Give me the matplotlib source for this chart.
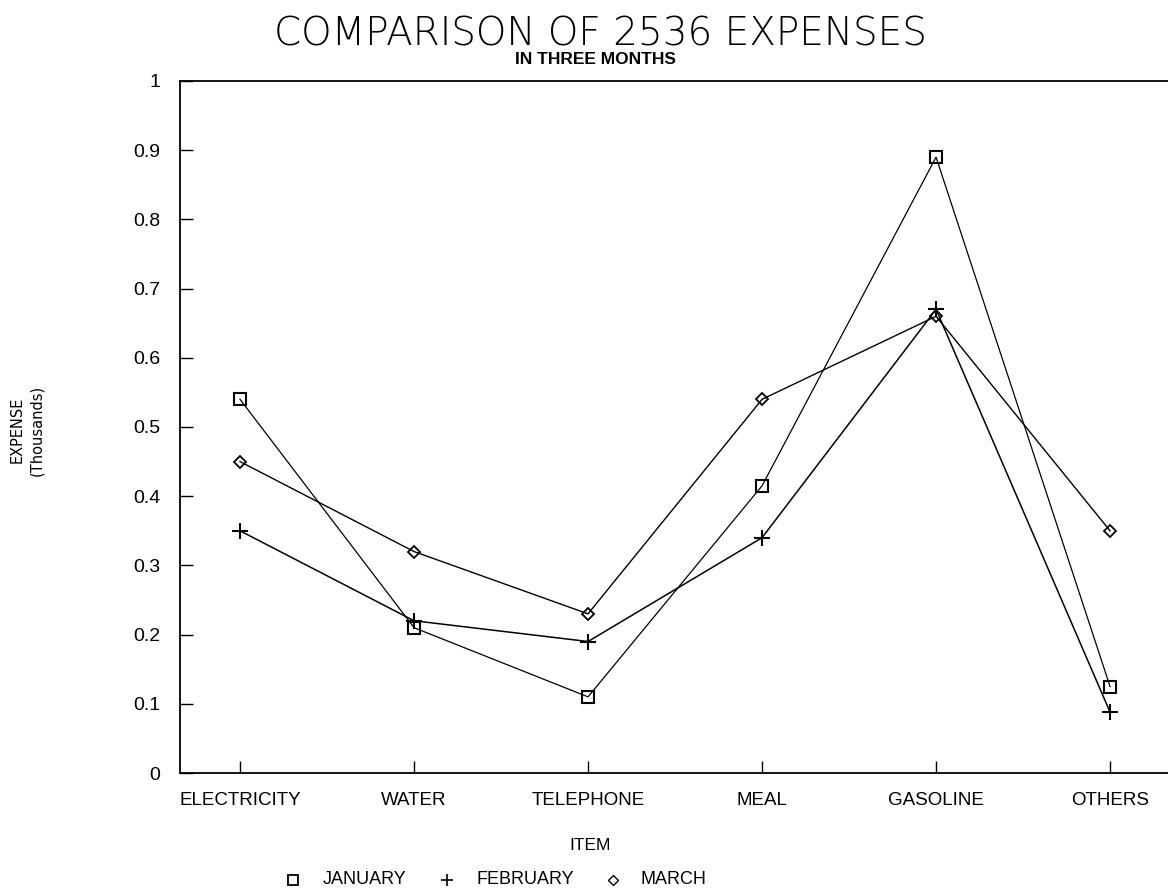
import matplotlib
matplotlib.use("Agg")
import matplotlib.pyplot as plt
from matplotlib.lines import Line2D

categories = ["ELECTRICITY", "WATER", "TELEPHONE", "MEAL", "GASOLINE", "OTHERS"]
january = [0.54, 0.21, 0.11, 0.415, 0.89, 0.125]
february = [0.35, 0.22, 0.19, 0.34, 0.67, 0.088]
march = [0.45, 0.32, 0.23, 0.54, 0.66, 0.35]
yticks = [0, 0.1, 0.2, 0.3, 0.4, 0.5, 0.6, 0.7, 0.8, 0.9, 1]
ytick_labels = ["0", "0.1", "0.2", "0.3", "0.4", "0.5", "0.6", "0.7", "0.8", "0.9", "1"]
series_names = ["JANUARY", "FEBRUARY", "MARCH"]

plt.rcParams['font.family'] = ['Liberation Sans', 'DejaVu Sans']

fig = plt.figure(figsize=(11.68, 8.94), dpi=100)
ax = fig.add_axes([180/1168, 1-773/894, 1-180/1168, (773-81)/894])

x = list(range(len(categories)))
ax.plot(x, january, color='black', lw=0.9, marker='s', ms=9, mfc='none', mec='black', mew=1.5)
ax.plot(x, february, color='black', lw=1.1, marker='+', ms=11, mew=1.5)
ax.plot(x, march, color='black', lw=1.0, marker='D', ms=6, mfc='none', mec='black', mew=1.3)

ax.set_xlim(-0.345, 5.333)
ax.set_ylim(0, 1)
ax.set_xticks(x)
ax.set_xticklabels(categories, fontsize=13.5)
ax.set_yticks(yticks)
ax.set_yticklabels(ytick_labels, fontsize=14)
ax.tick_params(axis='both', direction='in', length=9, width=1, color='black')
ax.tick_params(axis='x', pad=14)
ax.tick_params(axis='y', pad=14)
ax.spines['right'].set_visible(False)
for s in ['left', 'bottom', 'top']:
    ax.spines[s].set_linewidth(1.3)

fig.text(600/1168, 1-34/894, "COMPARISON OF 2536 EXPENSES", ha='center', va='center', fontsize=28, family='DejaVu Sans', fontweight='light')
fig.text(595/1168, 1-60/894, "IN THREE MONTHS", ha='center', va='center', fontsize=12.5, fontweight='bold')
fig.text(590/1168, 1-845/894, "ITEM", ha='center', va='center', fontsize=12.5)
fig.text(17/1168, 1-430/894, "EXPENSE", rotation=90, ha='center', va='center', fontsize=10.5, family='DejaVu Sans')
fig.text(37/1168, 1-430/894, "(Thousands)", rotation=90, ha='center', va='center', fontsize=10.5, family='DejaVu Sans')

# legend, drawn manually
leg_y = 1 - 880/894
marker_x = [293/1168, 447/1168, 613/1168]
label_x = [323/1168, 477/1168, 641/1168]
marker_styles = [dict(marker='s', ms=7, mfc='none', mec='black', mew=1.3),
                 dict(marker='+', ms=9, color='black', mew=1.2),
                 dict(marker='D', ms=5, mfc='none', mec='black', mew=1.0)]
for mx, lx, name, st in zip(marker_x, label_x, series_names, marker_styles):
    fig.add_artist(Line2D([mx], [leg_y], ls='none', transform=fig.transFigure, **st))
    fig.text(lx, leg_y, name, ha='left', va='center', fontsize=13)

fig.savefig("out.png", dpi=100, facecolor='white')
